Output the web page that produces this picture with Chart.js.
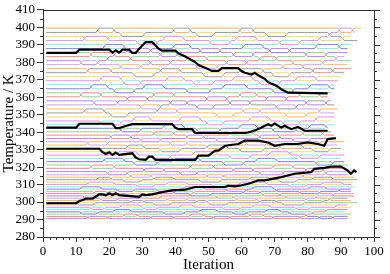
<!DOCTYPE html>
<html>
<head>
<meta charset="utf-8">
<script src="https://cdn.jsdelivr.net/npm/chart.js@4.4.1/dist/chart.umd.min.js"></script>
<style>
  html, body { margin: 0; padding: 0; background: #fff; }
</style>
</head>
<body>
<canvas id="chart-remd" width="390" height="274"></canvas>
<script>
// ── Temperature ladder (K), bottom to top ─────────────────────────
const tempLevels = [
  290.5, 291.8, 293.1, 294.4, 295.7, 297.0, 298.3, 299.6, 300.9, 302.2,
  303.5, 304.8, 306.1, 307.4, 308.7, 310.0, 311.4, 312.8, 314.2, 315.6,
  317.4, 319.3, 321.2, 323.1, 325.0, 326.9, 328.8, 330.7, 332.6, 334.5,
  336.4, 338.3, 340.2, 342.2, 344.2,
  346.4, 348.7, 351.0, 353.3, 355.6, 357.9, 360.2, 362.5, 364.8, 367.1,
  369.4, 371.7, 374.0, 376.3, 378.6, 380.9, 383.2, 385.5, 387.8, 390.1,
  392.4, 394.7, 397.0, 399.5
];

// last iteration written by each replica (indexed by starting level)
const lastIter = [
  92, 92, 93, 92, 91, 92, 93, 92, 93, 94,
  93, 94, 95, 93, 94, 93, 94, 95, 94, 93,
  92, 91, 92, 91, 90, 91, 89, 90, 91, 89,
  88, 88, 87, 86, 88,
  88, 87, 88, 89, 88, 87, 86, 87, 88, 88,
  89, 90, 91, 92, 91, 92, 93, 93, 92, 93,
  94, 93, 95, 96
];

// iterations at which neighbouring levels k and k+1 exchange replicas
const swapsByLevel = [
  [14, 20, 33, 40, 52, 57, 70, 78, 84, 88],
  [25, 29, 45, 49, 63, 67, 80],
  [12, 17, 37, 43, 58, 62, 75, 82],
  [22, 27, 48, 53, 68, 72, 86],
  [15, 19, 31, 35, 55, 60, 77, 81],
  [24, 30, 42, 46, 64, 69, 89],
  [11, 16, 34, 39, 51, 56, 73, 79],
  [27, 31, 47, 50, 66, 71, 85],
  [18, 23, 38, 44, 59, 65, 80, 87],
  [13, 21, 30, 36, 53, 58, 74, 83],
  [26, 32, 45, 51, 67, 72, 88],
  [16, 20, 40, 46, 61, 66, 78, 84],
  [23, 28, 35, 41, 56, 62, 71, 90],
  [12, 18, 43, 49, 64, 70, 81, 86],
  [29, 34, 52, 57, 75, 80],
  [14, 22, 38, 44, 60, 68, 85, 91],
  [25, 30, 48, 54, 72, 77],
  [17, 21, 34, 40, 63, 69, 82, 88],
  [27, 33, 50, 55, 74, 79],
  [20, 26, 42, 47, 66, 73, 86],
  [31, 37, 58, 64, 80, 85],
  [15, 22, 45, 52, 70, 76],
  [28, 35, 55, 61, 83, 88],
  [19, 25, 40, 48, 65, 71],
  [33, 39, 57, 63, 78, 84],
  [23, 29, 46, 53, 69, 75],
  [36, 42, 60, 67, 82, 87],
  [26, 31, 50, 56, 72, 79],
  [14, 20, 39, 44, 62, 68, 84],
  [30, 36, 53, 59, 76, 81],
  [21, 27, 44, 49, 66, 72],
  [34, 40, 57, 64, 79, 85],
  [24, 30, 47, 54, 70, 77],
  [37, 43, 60, 65, 81, 86],
  [18, 24, 50, 55, 73, 78],
  [28, 33, 42, 48, 63, 69, 83],
  [21, 26, 53, 58, 74, 80],
  [13, 19, 35, 41, 61, 66, 84],
  [30, 36, 47, 52, 71, 77],
  [16, 23, 39, 44, 57, 63, 80, 86],
  [26, 32, 50, 56, 68, 74],
  [12, 18, 34, 40, 60, 65, 78, 84],
  [22, 28, 44, 51, 70, 76],
  [15, 20, 31, 37, 55, 62, 81, 87],
  [25, 30, 46, 52, 66, 72],
  [18, 24, 38, 43, 58, 64, 77, 83],
  [28, 34, 49, 55, 70, 75],
  [14, 21, 36, 42, 60, 67, 82, 88],
  [24, 30, 47, 53, 73, 79],
  [12, 17, 33, 39, 56, 62, 76, 85],
  [20, 27, 44, 50, 66, 71, 89],
  [15, 22, 36, 41, 58, 64, 80, 86],
  [26, 33, 48, 54, 69, 75],
  [19, 25, 40, 45, 61, 67, 83, 90],
  [29, 35, 51, 57, 72, 78],
  [13, 20, 37, 43, 59, 65, 84, 91],
  [24, 31, 47, 52, 68, 74, 87],
  [17, 22, 40, 45, 60, 64, 90, 94]
];

// ── Highlighted replicas (iteration, K) ───────────────────────────
const walker385 = [
  [1, 385.3], [10, 385.3], [11, 387.2], [20, 387.2], [21, 385.5], [22, 386.8], [23, 385.5],
  [24, 387.2], [26, 387.2], [27, 385.3], [28, 385.3], [29, 387.6], [30, 389.6], [31, 391.5],
  [33, 391.5], [34, 389.6], [35, 387.6], [36, 386.6], [40, 386.6], [41, 385], [43, 383.3],
  [44, 382.2], [46, 380], [47, 378.4], [48, 377.5], [50, 376], [51, 375], [53, 375],
  [54, 376.6], [59, 376.6], [60, 375], [61, 374], [63, 373], [64, 374], [65, 372.5],
  [67, 370.5], [68, 368.5], [70, 367], [71, 366], [72, 364.5], [74, 362.6], [86, 362.2]
];
const walker342 = [
  [1, 342.6], [10, 342.6], [11, 344.8], [21, 344.8], [22, 342.3], [23, 342.3], [25, 343.5],
  [27, 344.6], [39, 344.6], [40, 342.5], [41, 341.7], [45, 341.7], [46, 339.5], [61, 339.5],
  [62, 339.8], [64, 341], [66, 342.6], [68, 344.5], [69, 343.6], [70, 344.9], [72, 342.6],
  [73, 343.6], [75, 341.7], [77, 343], [79, 340.8], [86, 340.8]
];
const walker330 = [
  [1, 330.5], [17, 330.5], [18, 328.5], [19, 327.5], [20, 328.5], [21, 327], [22, 328.3],
  [23, 327], [27, 327.9], [28, 325.5], [29, 324.5], [31, 324.1], [32, 326], [33, 326],
  [34, 324.1], [46, 324.1], [47, 326.6], [50, 326.6], [52, 329.4], [53, 329.4], [55, 332.2],
  [59, 333.2], [61, 335.1], [65, 335.1], [68, 334.1], [70, 332.2], [73, 333.2], [77, 333.2],
  [80, 334.1], [83, 333.2], [85, 332.2], [86, 336], [88.5, 336.6]
];
const walker299 = [
  [1, 299.3], [10, 299.3], [11, 300.6], [12, 301.2], [13, 302], [15, 302], [16, 303.2],
  [17, 304.4], [18, 304.4], [19, 303.8], [20, 305], [21, 304], [22, 305], [23, 304],
  [29, 303], [30, 304.4], [31, 304], [33, 304.4], [36, 305.7], [39, 306.7], [43, 307.1],
  [46, 308.6], [55, 308.6], [56, 309.4], [58, 309], [60, 309.6], [62, 310.5], [63, 311],
  [65, 312.4], [67, 312.4], [72, 314.3], [76, 316.2], [81, 317.1], [82, 319], [85, 319.6],
  [87, 320.3], [90, 320.3], [92, 318.1], [93, 316.2], [94, 318.1], [94.7, 317.1]
];

const lineColors = [
  '#b57fdc', '#e88a8a', '#8fd08f', '#7b7be0', '#8fe3e3',
  '#e08fe0', '#f0dc7a', '#9a9a9a', '#f5b66a', '#c9a3f2'
];

// ── Replica walk: apply the swaps iteration by iteration ─────────
const ladder = tempLevels.map((_, i) => i);        // level -> replica
const paths  = tempLevels.map(() => []);
const maxIter = Math.max(...lastIter);
for (let t = 1; t <= maxIter; t++) {
  swapsByLevel.forEach((list, k) => {
    if (list.includes(t)) {
      const a = ladder[k];
      ladder[k] = ladder[k + 1];
      ladder[k + 1] = a;
    }
  });
  ladder.forEach((r, k) => {
    if (t <= lastIter[r]) paths[r].push({ x: t, y: tempLevels[k] });
  });
}

const datasets = paths.map((p, r) => ({
  data: p,
  borderColor: lineColors[r % lineColors.length],
  borderWidth: 1,
  order: 1,
}));
[walker385, walker342, walker330, walker299].forEach(w => {
  datasets.push({
    data: w.map(([x, y]) => ({ x, y })),
    borderColor: '#000',
    borderWidth: 2.2,
    order: 0,
  });
});

const fontFamily = "'Liberation Serif', 'Times New Roman', serif";
const tickFont   = { family: fontFamily, size: 13 };
const titleFont  = { family: fontFamily, size: 15 };

// frame on top/right + minor ticks
const frame = {
  id: 'frame',
  afterDraw(chart) {
    const { ctx, chartArea: a, scales: { x, y } } = chart;
    ctx.save();
    ctx.strokeStyle = '#333';
    ctx.lineWidth = 1;
    ctx.beginPath();
    ctx.moveTo(a.left, Math.round(a.top) + 0.5);
    ctx.lineTo(a.right + 6, Math.round(a.top) + 0.5);
    ctx.moveTo(Math.round(a.right) + 0.5, a.top);
    ctx.lineTo(Math.round(a.right) + 0.5, a.bottom);
    for (let v = 280; v <= 410; v += 5) {
      const py = Math.round(y.getPixelForValue(v)) + 0.5;
      const len = v % 10 ? 3 : 6;
      ctx.moveTo(a.right, py); ctx.lineTo(a.right + len, py);
      if (v % 10) { ctx.moveTo(a.left - 3, py); ctx.lineTo(a.left, py); }
    }
    for (let v = 2; v < 100; v += 2) {
      if (v % 10 === 0) continue;
      const px = Math.round(x.getPixelForValue(v)) + 0.5;
      ctx.moveTo(px, a.bottom); ctx.lineTo(px, a.bottom + 3);
    }
    ctx.stroke();
    ctx.restore();
  }
};

new Chart(document.getElementById('chart-remd'), {
  type: 'line',
  data: { datasets },
  options: {
    responsive: false,
    animation: false,
    events: [],
    layout: { padding: { top: 8, right: 16 } },
    elements: { point: { radius: 0 }, line: { tension: 0 } },
    plugins: { legend: { display: false }, tooltip: { enabled: false } },
    scales: {
      x: {
        type: 'linear', min: 0, max: 100,
        afterFit: s => { s.height = 37; },
        border: { color: '#333' },
        grid: { drawOnChartArea: false, color: '#333', tickLength: 5 },
        ticks: { stepSize: 10, autoSkip: false, font: tickFont, color: '#000', padding: 2, maxRotation: 0 },
        title: { display: true, text: 'Iteration', font: titleFont, color: '#000', padding: 0 }
      },
      y: {
        type: 'linear', min: 280, max: 410,
        afterFit: s => { s.width = 43; },
        border: { color: '#333' },
        grid: { drawOnChartArea: false, color: '#333', tickLength: 6 },
        ticks: { stepSize: 10, autoSkip: false, font: tickFont, color: '#000', padding: 2 },
        title: { display: true, text: 'Temperature / K', font: titleFont, color: '#000', padding: 0 }
      }
    }
  },
  plugins: [frame]
});
</script>
</body>
</html>
